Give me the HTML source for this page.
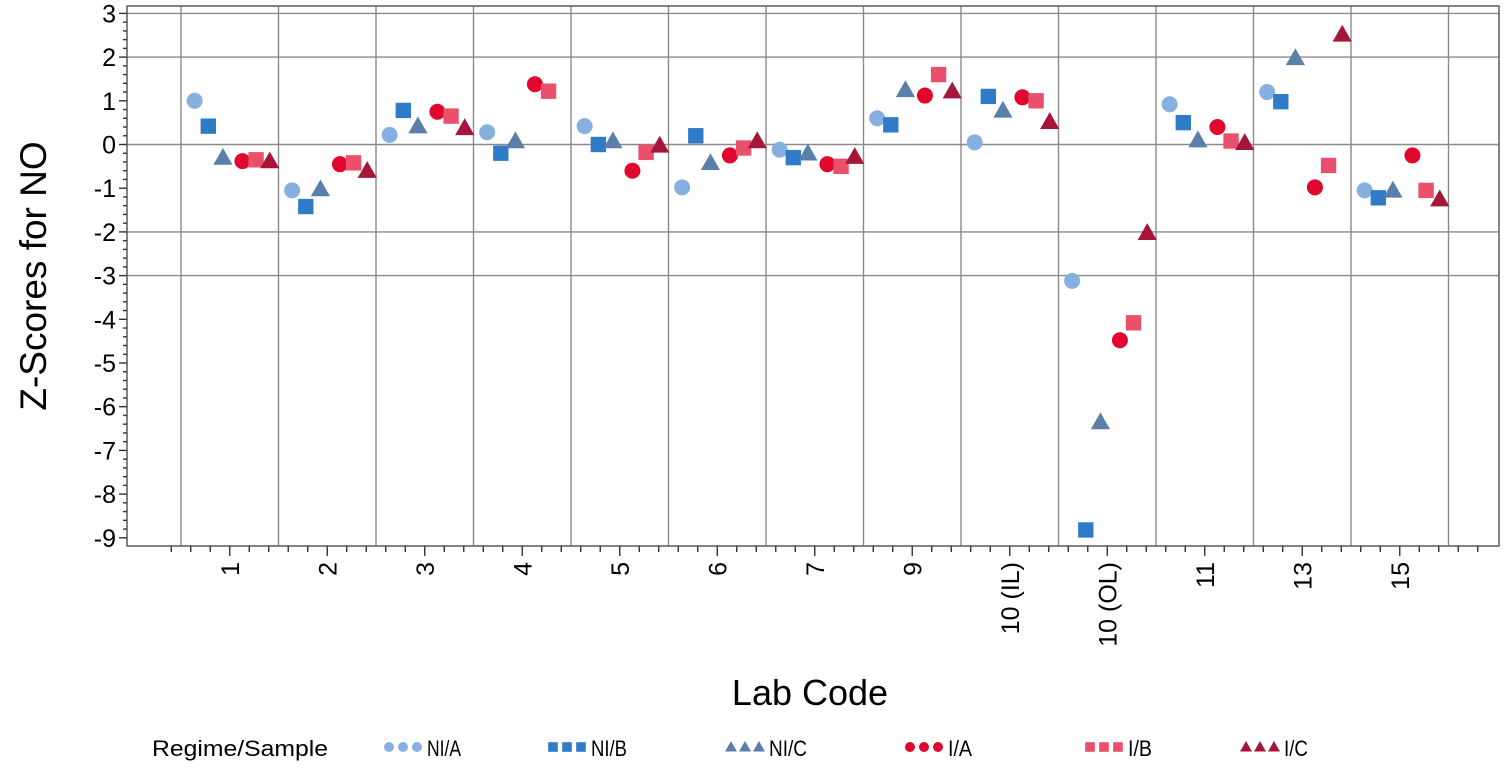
<!DOCTYPE html>
<html><head><meta charset="utf-8"><style>
body{margin:0;background:#fff;}
svg text{font-family:"Liberation Sans",Arial,sans-serif;}
</style></head><body>
<svg id="chart" width="1508" height="772" xmlns="http://www.w3.org/2000/svg">
<g id="grid"></g>
<g id="axes"></g>
<g id="marks"></g>
<text x="0" y="0" transform="translate(46,276) rotate(-90)" text-anchor="middle" font-size="37">Z-Scores for NO</text>
<text x="810" y="705" text-anchor="middle" font-size="36">Lab Code</text>
<g id="legend"></g>
</svg>
<script>
const categories=["1","2","3","4","5","6","7","9","10 (IL)","10 (OL)","11","13","15"];
const seriesNames=["NI/A","NI/B","NI/C","I/A","I/B","I/C"];
const niA=[1.0,-1.05,0.22,0.28,0.42,-0.98,-0.12,0.6,0.05,-3.12,0.92,1.2,-1.05];
const niB=[0.42,-1.42,0.78,-0.2,0.0,0.2,-0.3,0.45,1.1,-8.82,0.5,0.98,-1.22];
const niC=[-0.3,-1.02,0.42,0.08,0.08,-0.42,-0.2,1.25,0.78,-6.35,0.1,1.98,-1.05];
const iA=[-0.38,-0.45,0.75,1.38,-0.6,-0.25,-0.45,1.12,1.08,-4.48,0.4,-0.98,-0.25];
const iB=[-0.35,-0.42,0.65,1.22,-0.18,-0.08,-0.5,1.6,1.0,-4.08,0.08,-0.48,-1.05];
const iC=[-0.38,-0.6,0.38,null,-0.02,0.08,-0.28,1.22,0.52,-2.02,0.04,2.52,-1.25];
const yTicks=[3,2,1,0,-1,-2,-3,-4,-5,-6,-7,-8,-9];
const yGrid=[3,2,0,-2,-3];
const series=[niA,niB,niC,iA,iB,iC];
const colors=["#86b0e0","#2f7bc8","#5a7fa8","#e0062e","#ea4f6c","#a5163a"];
const shapes=["circle","square","triangle","circle","square","triangle"];
const offs=[-0.36,-0.22,-0.07,0.13,0.27,0.41];
const NS="http://www.w3.org/2000/svg";
const L=127,R=1499,T=6,B=546,catStart=181,catW=97.5;
const y=v=>144.5-v*43.7;
const x=c=>catStart+catW*(c+0.5);
function mk(tag,attrs,parent){const e=document.createElementNS(NS,tag);for(const k in attrs)e.setAttribute(k,attrs[k]);parent.appendChild(e);return e;}
const grid=document.getElementById('grid'),axes=document.getElementById('axes'),marks=document.getElementById('marks'),legend=document.getElementById('legend');
for(let i=0;i<=categories.length;i++){const gx=catStart+catW*i;const l=mk('line',{x1:gx,x2:gx,y1:T,y2:B,stroke:'#8a8a8a','stroke-width':1.4},grid);

}
yGrid.forEach(v=>{const l=mk('line',{x1:L,x2:R,y1:y(v),y2:y(v),stroke:'#8a8a8a','stroke-width':1.4},grid);

});
const fr=mk('rect',{x:L,y:T,width:R-L,height:B-T,fill:'none',stroke:'#666','stroke-width':1.6},axes);


for(let v=3;v>=-9.001;v-=0.2){const major=Math.abs(v-Math.round(v))<1e-6;mk('line',{x1:L-(major?8:4),x2:L,y1:y(v),y2:y(v),stroke:'#333','stroke-width':1.4},axes);}
yTicks.forEach(v=>{const t=mk('text',{x:L-11,y:y(v)+9,'text-anchor':'end','font-size':25},axes);t.textContent=v;

});
for(let k=-3;k<=categories.length*5+3;k++){const tx2=x(0)+k*catW/5;if(tx2<L+3||tx2>R-2)continue;const major=(k%5===0)&&k>=0&&k/5<categories.length;mk('line',{x1:tx2,x2:tx2,y1:B,y2:B+(major?10:6),stroke:'#333','stroke-width':1.4},axes);}
categories.forEach((c,i)=>{const t=mk('text',{x:0,y:0,'text-anchor':'end','font-size':25,transform:`translate(${x(i)+9},${B+16}) rotate(-90)`},axes);t.textContent=c;

});
function shape(s,cx,cy,col,sz,parent){let e;
if(s==='circle')e=mk('circle',{cx:cx,cy:cy,r:sz*0.5,fill:col},parent);
else if(s==='square')e=mk('rect',{x:cx-sz*0.48,y:cy-sz*0.48,width:sz*0.96,height:sz*0.96,fill:col},parent);
else e=mk('polygon',{points:`${cx},${cy-sz*0.6} ${cx+sz*0.6},${cy+sz*0.45} ${cx-sz*0.6},${cy+sz*0.45}`,fill:col},parent);
return e;}
series.forEach((arr,si)=>{arr.forEach((v,ci)=>{if(v===null)return;const e=shape(shapes[si],x(ci)+offs[si]*catW,y(v),colors[si],16,marks);

});});
const lt=mk('text',{x:152,y:756,'font-size':22,textLength:176,lengthAdjust:'spacingAndGlyphs'},legend);lt.textContent='Regime/Sample';


const lx=[389,553,731,910,1090,1246];
const tw=[34,36,38,24,24,24];
seriesNames.forEach((n,i)=>{const g=mk('g',{},legend);


for(let j=0;j<3;j++)shape(shapes[i],lx[i]+j*14,747,colors[i],10,g);
const t=mk('text',{x:lx[i]+38,y:756,'font-size':22,textLength:tw[i],lengthAdjust:'spacingAndGlyphs'},g);t.textContent=n;});
</script>
</body></html>
